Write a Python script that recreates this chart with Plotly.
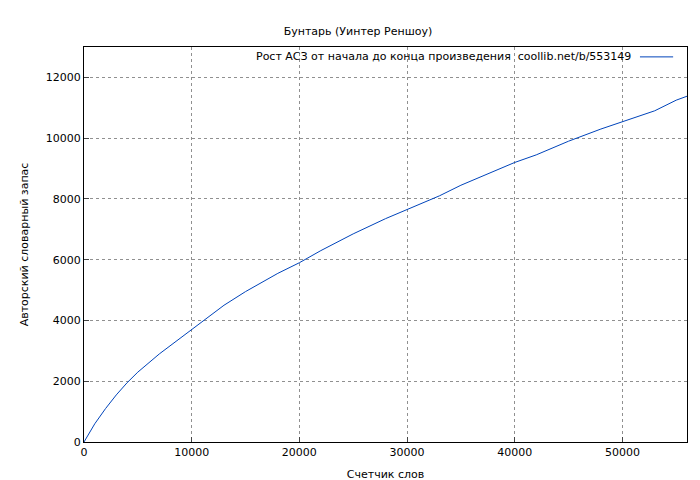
import plotly.graph_objects as go

words = [0, 500, 1000, 2000, 3000, 4000, 5000, 7000, 10000, 12000, 13000, 15000, 18000, 20000, 22000, 25000, 28000, 30000, 33000, 35000, 38000, 40000, 42000, 45000, 48000, 50000, 53000, 55000, 56000]
vocab = [0, 300, 600, 1100, 1550, 1950, 2300, 2900, 3700, 4250, 4500, 4950, 5550, 5900, 6300, 6850, 7350, 7650, 8100, 8450, 8900, 9200, 9450, 9900, 10300, 10550, 10900, 11250, 11380]
legend_text = "Рост АСЗ от начала до конца произведения  coollib.net/b/553149"

fig = go.Figure(go.Scatter(x=words, y=vocab, mode="lines", line=dict(color="#0044bb", width=1),
                           name=legend_text, showlegend=False))
ax = dict(showline=True, linecolor="black", mirror=True, ticks="inside", ticklen=5,
          showgrid=True, gridcolor="#909090", griddash="dot", gridwidth=1, zeroline=False,
          automargin=False, tickformat="d", tickfont=dict(size=11))
fig.update_layout(
    width=700, height=480, paper_bgcolor="white", plot_bgcolor="white",
    margin=dict(l=76, r=21, t=39, b=46),
    font=dict(family="DejaVu Sans", size=11, color="black"),
    title=dict(text="Бунтарь (Уинтер Реншоу)", x=0.5, y=0.96, xanchor="center", font=dict(size=11)),
    xaxis=dict(range=[0, 56000], dtick=10000, title=dict(text="Счетчик слов", standoff=12, font=dict(size=11)), **ax),
    yaxis=dict(range=[0, 13000], dtick=2000, title=dict(text="Авторский словарный запас", standoff=14, font=dict(size=11)), **ax),
    showlegend=False,
)
fig.add_annotation(text=legend_text, xref="paper", yref="paper", x=0.91, y=0.975,
                   xanchor="right", yanchor="middle", showarrow=False, font=dict(size=11))
fig.add_shape(type="line", xref="paper", yref="paper", x0=0.922, x1=0.977, y0=0.975, y1=0.975,
              line=dict(color="#0044bb", width=1))
fig.write_html("out.html")
